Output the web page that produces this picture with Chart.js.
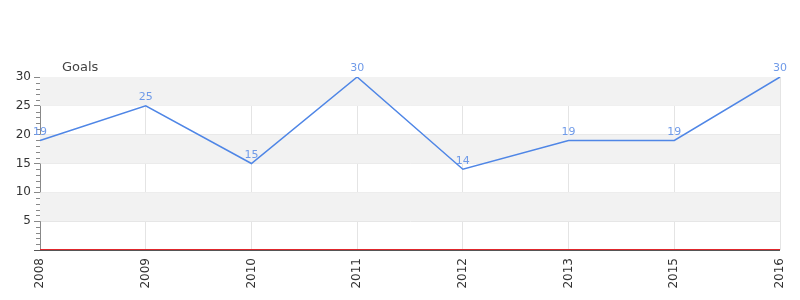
<!DOCTYPE html>
<html>
<head>
<meta charset="utf-8">
<script src="https://cdn.jsdelivr.net/npm/chart.js@4"></script>
<style>
  html, body { margin: 0; padding: 0; background: #fff; }
  #wrap { width: 800px; height: 300px; }
</style>
</head>
<body>
<div id="wrap"><canvas id="c"></canvas></div>
<script>
const years = ["2008", "2009", "2010", "2011", "2012", "2013", "2015", "2016"];
const goals = [19, 25, 15, 30, 14, 19, 19, 30];
const yTicks = [5, 10, 15, 20, 25, 30];

const FONT = "'DejaVu Sans', sans-serif";

// alternating bands, minor ticks, zero line, data labels, axis title
const extras = {
  id: "extras",
  beforeDatasetsDraw(chart) {
    const { ctx, chartArea: a, scales: { y } } = chart;
    ctx.save();
    ctx.fillStyle = "#f2f2f2";
    for (let i = 0; i < yTicks.length; i += 2) {
      const top = y.getPixelForValue(yTicks[yTicks.length - 1 - i]);
      const bot = y.getPixelForValue(yTicks[yTicks.length - 2 - i]);
      ctx.fillRect(a.left, top, a.right - a.left, bot - top);
    }
    ctx.restore();
  },
  afterDraw(chart) {
    const { ctx, chartArea: a, scales: { x, y } } = chart;
    ctx.save();
    // minor ticks
    ctx.strokeStyle = "#888";
    ctx.lineWidth = 1;
    for (let v = 1; v < 30; v++) {
      if (v % 5 === 0) continue;
      const py = Math.round(y.getPixelForValue(v)) + 0.5;
      ctx.beginPath();
      ctx.moveTo(a.left - 4, py);
      ctx.lineTo(a.left, py);
      ctx.stroke();
    }
    // zero line
    const z = Math.round(y.getPixelForValue(0));
    ctx.strokeStyle = "#555";
    ctx.lineWidth = 1;
    ctx.beginPath();
    ctx.moveTo(a.left - 6, z + 0.5);
    ctx.lineTo(a.right, z + 0.5);
    ctx.stroke();
    ctx.strokeStyle = "#e0262c";
    ctx.beginPath();
    ctx.moveTo(a.left, z - 0.5);
    ctx.lineTo(a.right, z - 0.5);
    ctx.stroke();
    // data labels
    ctx.fillStyle = "#6f9ae8";
    ctx.font = "11px " + FONT;
    ctx.textAlign = "center";
    ctx.textBaseline = "bottom";
    goals.forEach((g, i) => {
      ctx.fillText(String(g), x.getPixelForValue(i), y.getPixelForValue(g) - 3);
    });
    // axis title
    ctx.fillStyle = "#444";
    ctx.font = "13px " + FONT;
    ctx.textAlign = "left";
    ctx.textBaseline = "alphabetic";
    ctx.fillText("Goals", a.left + 22, a.top - 6);
    ctx.restore();
  }
};

new Chart(document.getElementById("c"), {
  type: "line",
  data: {
    labels: years,
    datasets: [{
      label: "Goals",
      data: goals,
      borderColor: "#4f86e6",
      borderWidth: 1.5,
      pointRadius: 0,
      tension: 0,
      fill: false
    }]
  },
  options: {
    responsive: true,
    maintainAspectRatio: false,
    animation: false,
    layout: { padding: { top: 77, right: 20, bottom: 0, left: 0 } },
    plugins: {
      legend: { display: false },
      tooltip: { enabled: false }
    },
    scales: {
      x: {
        offset: false,
        grid: { color: "#e4e4e4", drawTicks: false },
        border: { display: false },
        afterFit(scale) {
          scale.height = 50;
          scale.paddingRight = 0;
          scale.paddingLeft = 0;
        },
        ticks: {
          minRotation: 90,
          maxRotation: 90,
          padding: 8,
          color: "#333",
          font: { family: FONT, size: 12 }
        }
      },
      y: {
        min: 0,
        max: 30,
        grid: { color: "#e4e4e4", tickLength: 6, tickColor: "#888" },
        border: { color: "#888" },
        afterFit(scale) { scale.width = 40; },
        afterBuildTicks(scale) {
          scale.ticks = yTicks.map(v => ({ value: v }));
        },
        ticks: {
          color: "#333",
          padding: 3,
          font: { family: FONT, size: 12 }
        }
      }
    }
  },
  plugins: [extras]
});
</script>
</body>
</html>
